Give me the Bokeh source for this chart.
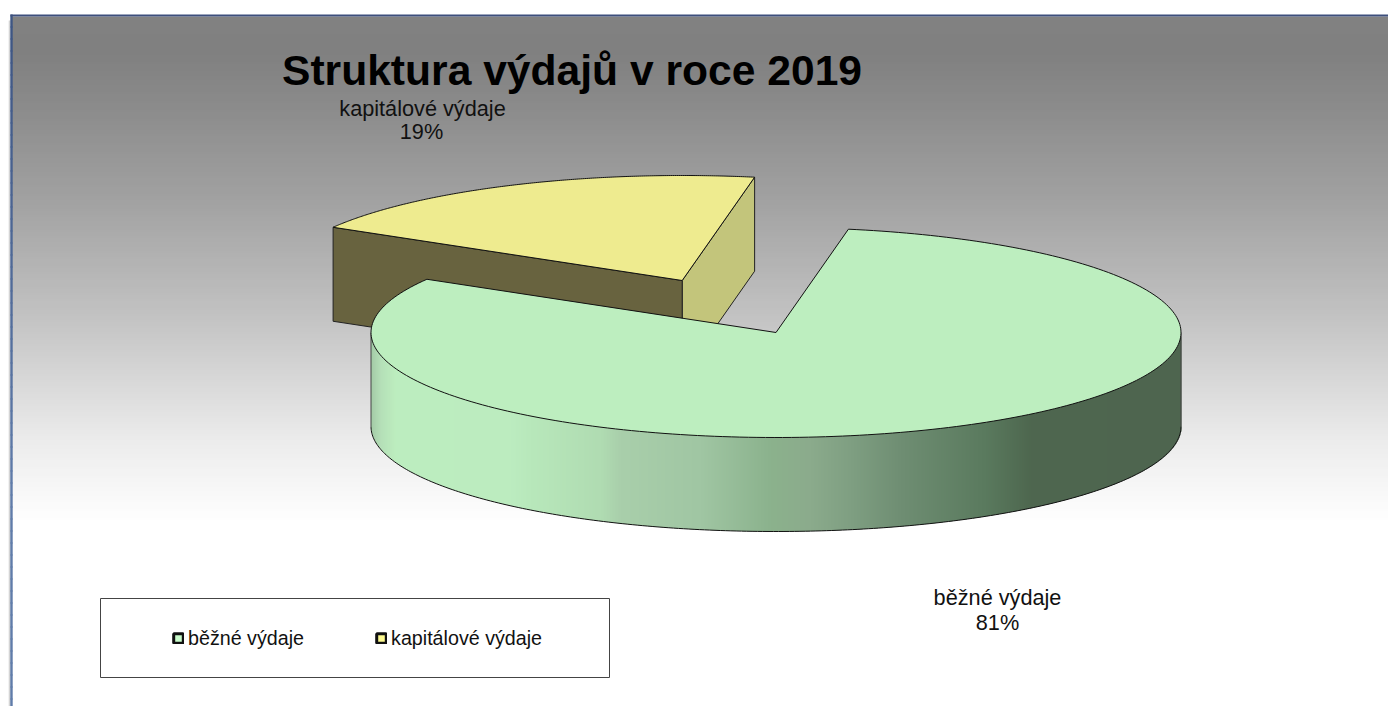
import numpy as np
from bokeh.core.properties import value
from bokeh.embed import file_html
from bokeh.models import ColumnDataSource, Legend, LegendItem, Range1d
from bokeh.plotting import figure
from bokeh.resources import INLINE

# ---- data
categories = ["běžné výdaje", "kapitálové výdaje"]
shares = [80.6, 19.4]
chart_title = "Struktura výdajů v roce 2019"

# ---- geometry and style of the 3D pie (screen pixels)
CX, CY, RX, RY, DEPTH = 775.5, 332, 405, 105, 94
START = 79.7                     # degrees, first slice runs clockwise from here
EXPLODE = (-93.8, -52)           # offset of the pulled-out slice
FONT = value("Liberation Sans")

p = figure(width=1388, height=706, output_backend="svg", toolbar_location=None,
           x_range=Range1d(0, 1388), y_range=Range1d(706, 0), min_border=0,
           x_axis_type=None, y_axis_type=None, background_fill_color="white",
           border_fill_color="white", outline_line_color=None)
p.grid.visible = False


def hexes(r, g, b):
    return ["#%02x%02x%02x" % (int(a), int(c), int(d)) for a, c, d in zip(r, g, b)]


# background gradient
ys = np.arange(16, 524, 3)
grey = np.interp(ys + 1.5, [16, 50, 100, 200, 320, 440, 520],
                 [0x82, 0x80, 0x8a, 0xa2, 0xc4, 0xec, 0xff])
p.quad(left=11, right=1388, top=ys, bottom=ys + 3.6, fill_color=hexes(grey, grey, grey), line_color=None)

# frame: soft shadow, left and top rule
p.segment(x0=[9.2], y0=[20], x1=[9.2], y1=[706], line_color="#d4d4d4", line_width=2)
yb = np.arange(14, 706, 12)
blue = np.array([np.interp(yb, [14, 480], c) for c in ((0x3e, 0x60), (0x56, 0x7c), (0x84, 0xaa))])
p.segment(x0=11, y0=yb, x1=11, y1=yb + 13, line_color=hexes(*blue), line_width=2.4)
p.segment(x0=[10], y0=[15], x1=[1388], y1=[15], line_color="#3d4f7c", line_width=2.2)


def arc(a0, a1, dx=0, dy=0, n=240):
    t = np.radians(np.linspace(a0, a1, n))
    return CX + dx + RX * np.cos(t), CY + dy - RY * np.sin(t)


fractions = np.array(shares) / sum(shares)
a_green_end = START - 360 * fractions[0]
a_yellow_start = a_green_end + 360       # continues clockwise back to START

# ---- exploded slice (drawn first, it lies behind)
dx, dy = EXPLODE
ax, ay = CX + dx, CY + dy
yx, yy = arc(a_yellow_start, START, dx, dy)
p.patch([ax, yx[-1], yx[-1], ax], [ay, yy[-1], yy[-1] + DEPTH, ay + DEPTH],
        fill_color="#c3c57b", line_color="#222222", line_width=1)
p.patch([ax, yx[0], yx[0], ax], [ay, yy[0], yy[0] + DEPTH, ay + DEPTH],
        fill_color="#68633f", line_color="#222222", line_width=1)
p.patch(np.r_[ax, yx], np.r_[ay, yy], fill_color="#eeeb8f", line_color="#111111", line_width=1)

# ---- main slice: curved wall with its shading
sx = np.arange(CX - RX, CX + RX, 1.0)
top_y = CY + RY * np.sqrt(np.clip(1 - ((sx + 0.5 - CX) / RX) ** 2, 0, 1))
shade_x = [371, 380, 395, 510, 530, 600, 620, 700, 770, 810, 850, 900, 985, 1030, 1181]
shade = [np.interp(sx, shade_x, c) for c in (
    (0xa5, 0xb5, 0xbd, 0xbc, 0xb8, 0xb0, 0xa9, 0xa0, 0x8b, 0x8b, 0x7f, 0x6f, 0x5a, 0x4e, 0x4e),
    (0xcc, 0xe0, 0xee, 0xec, 0xe8, 0xdc, 0xcf, 0xc6, 0xb2, 0xab, 0x9f, 0x8e, 0x7a, 0x67, 0x65),
    (0xa8, 0xb8, 0xbf, 0xc0, 0xbb, 0xb2, 0xab, 0xa3, 0x8d, 0x8c, 0x82, 0x73, 0x5e, 0x4f, 0x4f))]
p.quad(left=sx, right=sx + 1.5, top=top_y - 1, bottom=top_y + DEPTH, fill_color=hexes(*shade), line_color=None)

bx, by = arc(180, 360)
p.line(bx, by + DEPTH, line_color="#111111", line_width=1)
p.segment(x0=[CX - RX, CX + RX], y0=[CY, CY], x1=[CX - RX, CX + RX], y1=[CY + DEPTH, CY + DEPTH],
          line_color="#444444", line_width=1)

gx, gy = arc(START, a_green_end)
p.patch(np.r_[CX, gx], np.r_[CY, gy], fill_color="#bdeebf", line_color="#111111", line_width=1)

# ---- texts
p.text(x=[571.5], y=[69.5], text=[chart_title], text_font=FONT, text_font_size="42.6px", text_font_style="bold",
       text_color="black", text_align="center", text_baseline="middle")
p.text(x=[422, 421], y=[108, 131], text=[categories[1], f"{round(shares[1])}%"], text_font=FONT,
       text_font_size="21.7px", text_color="#111111", text_align="center", text_baseline="middle")
p.text(x=[997, 997], y=[597, 622], text=[categories[0], f"{round(shares[0])}%"], text_font=FONT,
       text_font_size="21.7px", text_color="#111111", text_align="center", text_baseline="middle")

# ---- legend
p.quad(left=[100], right=[609], top=[598], bottom=[677], fill_color="white", line_color="#444444", line_width=1)
# swatch renderers: a single quad left of the visible range, only their styles are shown in the legend
hidden = dict(left=[-30], right=[-20], top=[10], bottom=[20])
r1 = p.quad(source=ColumnDataSource(hidden), left="left", right="right", top="top", bottom="bottom",
            fill_color="#c9fccb", line_color="#111111", line_width=3)
r2 = p.quad(source=ColumnDataSource(hidden), left="left", right="right", top="top", bottom="bottom",
            fill_color="#fdfa90", line_color="#111111", line_width=3)
legend = Legend(items=[LegendItem(label=categories[0], renderers=[r1]),
                       LegendItem(label=categories[1], renderers=[r2])],
                orientation="horizontal", location=(172, 56.5), background_fill_alpha=0,
                border_line_color=None, padding=0, margin=0, spacing=71, glyph_width=12, glyph_height=12,
                label_standoff=4, label_text_font="Liberation Sans", label_text_font_size="19.7px",
                label_text_color="#111111", label_height=20)
p.add_layout(legend, "center")

open("out.html", "w").write(file_html(p, INLINE))
